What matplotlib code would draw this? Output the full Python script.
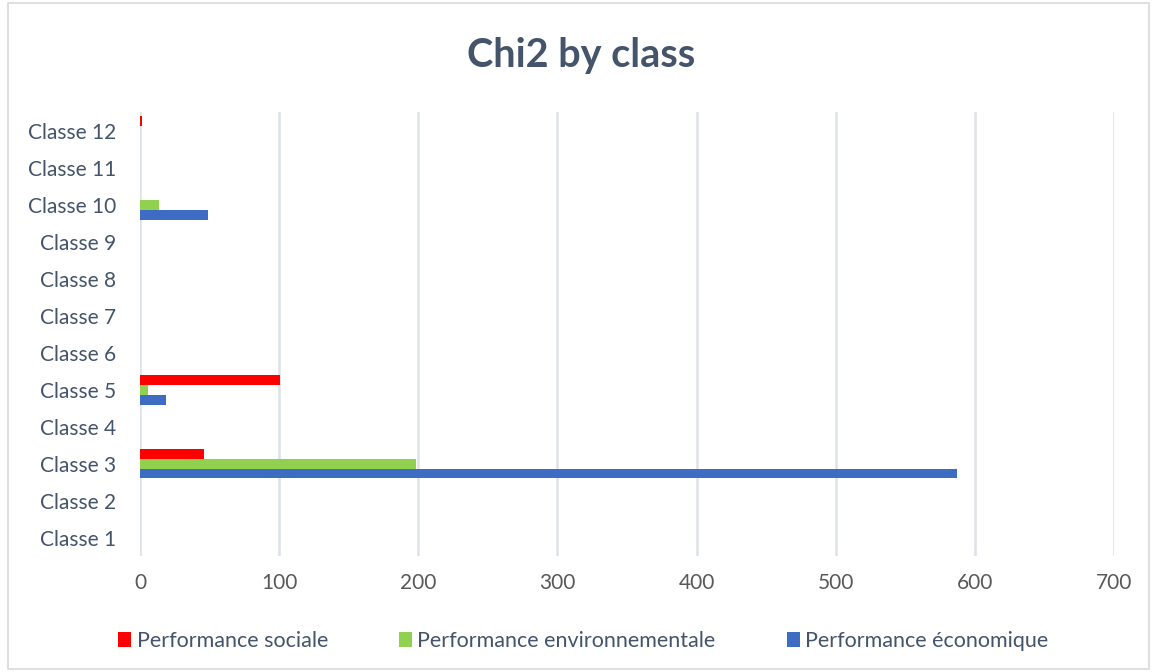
import matplotlib
matplotlib.use("Agg")
import matplotlib.pyplot as plt
from matplotlib.patches import Rectangle
import numpy as np

categories = [f"Classe {i}" for i in range(1, 13)]
sociale = [0, 0, 46, 0, 100.5, 0, 0, 0, 0, 0, 0, 1.5]
environnementale = [0, 0, 198.5, 0, 6, 0, 0, 0, 0, 14, 0, 0]
economique = [0, 0, 587, 0, 19, 0, 0, 0, 0, 49, 0, 0]
series_names = ["Performance sociale", "Performance environnementale", "Performance économique"]
colors = ["#FF0000", "#92D050", "#3F6CC3"]

plt.rcParams['font.family'] = ['Lato', 'DejaVu Sans']
txt = "#44546A"

fig = plt.figure(figsize=(11.55, 6.72), dpi=100)
fig.patches.append(Rectangle((0.007, 0.005), 0.988, 0.99, transform=fig.transFigure,
                             fill=False, edgecolor="#D9D9D9", linewidth=1.2))
ax = fig.add_axes([0.1212, 0.1726, 0.8433, 0.6607])

y = np.arange(len(categories))
h = 0.27
ax.barh(y + h, sociale, height=h, color=colors[0], label=series_names[0], zorder=3)
ax.barh(y, environnementale, height=h, color=colors[1], label=series_names[1], zorder=3)
ax.barh(y - h, economique, height=h, color=colors[2], label=series_names[2], zorder=3)

ax.set_xlim(0, 700)
ax.set_ylim(-0.5, 11.5)
ax.set_xticks(np.arange(0, 701, 100))
ax.set_yticks(y)
ax.set_yticklabels(categories)
ax.grid(axis='x', color="#DDE1E8", linewidth=1.8, zorder=0)
for s in ax.spines.values():
    s.set_visible(False)
ax.tick_params(axis='both', length=0, labelsize=15, colors=txt)
ax.tick_params(axis='x', pad=12, labelcolor="#595959")
ax.tick_params(axis='y', pad=17)

fig.text(0.503, 0.917, "Chi2 by class", ha='center', va='center', fontsize=28.5,
         fontweight='bold', color=txt)

leg = fig.legend(loc='center', bbox_to_anchor=(0.505, 0.046), ncol=3, frameon=False,
                 fontsize=15.5, handlelength=0.6, handleheight=0.75, handletextpad=0.25,
                 columnspacing=3.3)
for t in leg.get_texts():
    t.set_color(txt)

fig.savefig("out.png", dpi=100)
